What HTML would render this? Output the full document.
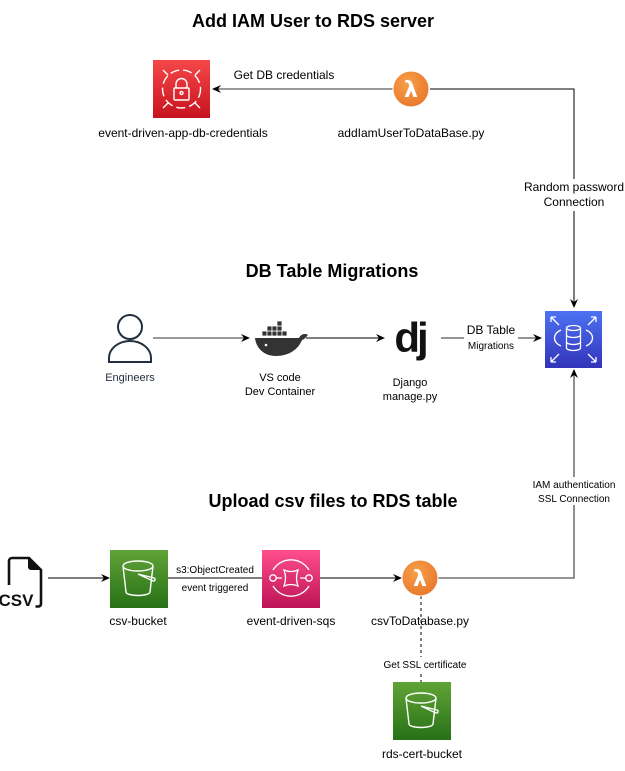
<!DOCTYPE html>
<html><head><meta charset="utf-8"><style>
html,body{margin:0;padding:0;background:#fff;}
svg{display:block;font-family:"Liberation Sans",Arial,sans-serif;}
</style></head><body>
<svg width="625" height="771" viewBox="0 0 625 771" xmlns="http://www.w3.org/2000/svg">
<defs>
<linearGradient id="red" x1="0" y1="0" x2="0" y2="1"><stop offset="0" stop-color="#f54749"/><stop offset="1" stop-color="#c7131f"/></linearGradient>
<linearGradient id="blue" x1="0" y1="0" x2="0" y2="1"><stop offset="0" stop-color="#4d72f3"/><stop offset="1" stop-color="#3334b9"/></linearGradient>
<linearGradient id="green" x1="0" y1="0" x2="0" y2="1"><stop offset="0" stop-color="#60a337"/><stop offset="1" stop-color="#277116"/></linearGradient>
<linearGradient id="pink" x1="0" y1="0" x2="0" y2="1"><stop offset="0" stop-color="#ff4f8b"/><stop offset="1" stop-color="#bc1356"/></linearGradient>
<radialGradient id="orange" cx="0.4" cy="0.35" r="0.7"><stop offset="0" stop-color="#f7a04a"/><stop offset="1" stop-color="#e8772b"/></radialGradient>
<marker id="ah" markerWidth="10" markerHeight="10" refX="8" refY="5" orient="auto" markerUnits="userSpaceOnUse"><path d="M0,1 L9,5 L0,9 L3,5 Z" fill="#000"/></marker>
</defs>

<text x="313" y="27" font-size="18" font-weight="bold" text-anchor="middle">Add IAM User to RDS server</text>
<text x="332" y="277" font-size="18" font-weight="bold" text-anchor="middle">DB Table Migrations</text>
<text x="333" y="507" font-size="18" font-weight="bold" text-anchor="middle">Upload csv files to RDS table</text>

<line x1="393" y1="89" x2="213" y2="89" stroke="#333" stroke-width="1" marker-end="url(#ah)"/>
<polyline points="430,89 574,89 574,307" fill="none" stroke="#000" stroke-width="1" marker-end="url(#ah)"/>
<rect x="522" y="179" width="106" height="32" fill="#fff"/>
<text x="574" y="191" font-size="12" text-anchor="middle">Random password</text>
<text x="574" y="206" font-size="12" text-anchor="middle">Connection</text>
<text x="284" y="79" font-size="12" text-anchor="middle">Get DB credentials</text>

<rect x="153" y="60" width="57" height="58" fill="url(#red)"/>
<g stroke="#fff" stroke-width="1.4" fill="none">
<circle cx="181.5" cy="89" r="19" stroke-dasharray="9 4"/>
<rect x="174" y="88" width="15" height="12" rx="1"/>
<path d="M176,88 v-4 a5.5,5.5 0 0 1 11,0 v4"/>
<circle cx="181.5" cy="93" r="1.5"/>
<line x1="163" y1="70" x2="168" y2="75"/><line x1="200" y1="70" x2="195" y2="75"/>
<line x1="163" y1="108" x2="168" y2="103"/><line x1="200" y1="108" x2="195" y2="103"/>
</g>
<text x="183" y="137" font-size="12" text-anchor="middle">event-driven-app-db-credentials</text>

<circle cx="411" cy="89" r="18" fill="url(#orange)" stroke="#fff" stroke-width="1"/>
<text x="411" y="97" font-size="22" font-weight="bold" fill="#fff" text-anchor="middle" font-family="DejaVu Sans">λ</text>
<text x="411" y="137" font-size="12" text-anchor="middle">addIamUserToDataBase.py</text>

<g fill="none" stroke="#232f3e" stroke-width="2">
<circle cx="130" cy="327" r="12"/>
<path d="M109,362 v-4 a21,17 0 0 1 42,0 v4 z"/>
</g>
<text x="130" y="381" font-size="11" fill="#232f3e" text-anchor="middle">Engineers</text>
<line x1="153" y1="338" x2="249" y2="338" stroke="#333" marker-end="url(#ah)"/>

<g fill="#333">
<path d="M255,338 h44 c2,-4 6,-5 9,-3 c-2,2 -3,4 -6,5 c-4,10 -14,16 -26,16 c-12,0 -20,-8 -21,-18 z"/>
<g stroke="#fff" stroke-width="0.8">
<rect x="262" y="331" width="5" height="5"/><rect x="267" y="331" width="5" height="5"/><rect x="272" y="331" width="5" height="5"/><rect x="277" y="331" width="5" height="5"/><rect x="282" y="331" width="5" height="5"/>
<rect x="267" y="326" width="5" height="5"/><rect x="272" y="326" width="5" height="5"/><rect x="277" y="326" width="5" height="5"/>
<rect x="277" y="321" width="5" height="5"/>
</g>
<circle cx="266" cy="345" r="1.3" fill="#fff"/>
</g>
<text x="280" y="381" font-size="11" text-anchor="middle">VS code</text>
<text x="280" y="395" font-size="11" text-anchor="middle">Dev Container</text>
<line x1="306" y1="338" x2="384" y2="338" stroke="#000" marker-end="url(#ah)"/>

<text x="410" y="352" font-size="42" font-weight="bold" text-anchor="middle" letter-spacing="-3" fill="#111">dj</text>
<text x="410" y="386" font-size="11" text-anchor="middle">Django</text>
<text x="410" y="400" font-size="11" text-anchor="middle">manage.py</text>

<line x1="441" y1="338" x2="541" y2="338" stroke="#555" stroke-width="1.3" marker-end="url(#ah)"/>
<rect x="464" y="323" width="54" height="27" fill="#fff"/>
<text x="491" y="334" font-size="12" text-anchor="middle">DB Table</text>
<text x="491" y="349" font-size="10" text-anchor="middle">Migrations</text>

<rect x="545" y="311" width="57" height="57" fill="url(#blue)"/>
<g stroke="#fff" stroke-width="1.3" fill="none">
<ellipse cx="573.5" cy="328" rx="7" ry="2.5"/>
<path d="M566.5,328 v20 a7,2.5 0 0 0 14,0 v-20"/>
<path d="M566.5,335 a7,2.5 0 0 0 14,0 M566.5,342 a7,2.5 0 0 0 14,0"/>
<path d="M561,330 a12,9 0 0 0 0,16 M586,330 a12,9 0 0 1 0,16"/>
<path d="M551,317 l8,8 M551,317 v5 M551,317 h5"/>
<path d="M596,317 l-8,8 M596,317 v5 M596,317 h-5"/>
<path d="M551,362 l8,-8 M551,362 v-5 M551,362 h5"/>
<path d="M596,362 l-8,-8 M596,362 v-5 M596,362 h-5"/>
</g>

<polyline points="438,578 574,578 574,370" fill="none" stroke="#555" stroke-width="1.3" marker-end="url(#ah)"/>
<rect x="528" y="477" width="94" height="28" fill="#fff"/>
<text x="574" y="488" font-size="10" text-anchor="middle">IAM authentication</text>
<text x="574" y="502" font-size="10" text-anchor="middle">SSL Connection</text>

<!-- CSV icon -->
<g fill="none" stroke="#111" stroke-width="2.6" stroke-linejoin="round">
<path d="M9,585 v-24 a3,3 0 0 1 3,-3 h17 l12,12 v34 a2.5,2.5 0 0 1 -2.5,2.5 h-3"/>
</g>
<path d="M28,558 v9 a3,3 0 0 0 3,3 h10 z" fill="#111"/>
<text x="16" y="606" font-size="17" font-weight="bold" text-anchor="middle" fill="#111">CSV</text>
<line x1="48" y1="578" x2="109" y2="578" stroke="#000" marker-end="url(#ah)"/>

<rect x="110" y="550" width="58" height="58" fill="url(#green)"/>
<g stroke="#fff" stroke-width="1.4" fill="none">
<ellipse cx="138" cy="566" rx="15" ry="5"/>
<path d="M123,566 l3,26 a12,3.5 0 0 0 24,0 l3,-26"/>
<path d="M138,574 l15,7 a1.5,1.5 0 1 0 1,-3 l-16,-4"/>
</g>
<text x="138" y="625" font-size="12" text-anchor="middle">csv-bucket</text>

<line x1="168" y1="578" x2="262" y2="578" stroke="#000"/>
<text x="215" y="573" font-size="10" text-anchor="middle">s3:ObjectCreated</text>
<text x="215" y="591" font-size="10" text-anchor="middle">event triggered</text>

<rect x="262" y="550" width="58" height="58" fill="url(#pink)"/>
<g stroke="#fff" stroke-width="1.3" fill="none">
<path d="M273,570 a21,21 0 0 1 36,0 M273,586 a21,21 0 0 0 36,0"/>
<circle cx="273" cy="578" r="3.2"/><circle cx="309" cy="578" r="3.2"/>
<path d="M284,570 q7,3 14,0 q-3,8 0,16 q-7,-3 -14,0 q3,-8 0,-16 z"/>
<path d="M276,578 h6 M300,578 h6"/>
</g>
<text x="291" y="625" font-size="12" text-anchor="middle">event-driven-sqs</text>
<line x1="320" y1="578" x2="401" y2="578" stroke="#000" marker-end="url(#ah)"/>

<line x1="421" y1="596" x2="421" y2="682" stroke="#000" stroke-dasharray="3 3"/>
<circle cx="420" cy="578" r="18" fill="url(#orange)" stroke="#fff" stroke-width="1"/>
<text x="420" y="586" font-size="22" font-weight="bold" fill="#fff" text-anchor="middle" font-family="DejaVu Sans">λ</text>
<text x="420" y="625" font-size="12" text-anchor="middle">csvToDatabase.py</text>
<rect x="382" y="657" width="86" height="14" fill="#fff"/>
<text x="425" y="668" font-size="10" text-anchor="middle">Get SSL certificate</text>

<rect x="393" y="682" width="58" height="58" fill="url(#green)"/>
<g stroke="#fff" stroke-width="1.4" fill="none">
<ellipse cx="421" cy="698" rx="15" ry="5"/>
<path d="M406,698 l3,26 a12,3.5 0 0 0 24,0 l3,-26"/>
<path d="M421,706 l15,7 a1.5,1.5 0 1 0 1,-3 l-16,-4"/>
</g>
<text x="422" y="758" font-size="12" text-anchor="middle">rds-cert-bucket</text>
</svg>
</body></html>
